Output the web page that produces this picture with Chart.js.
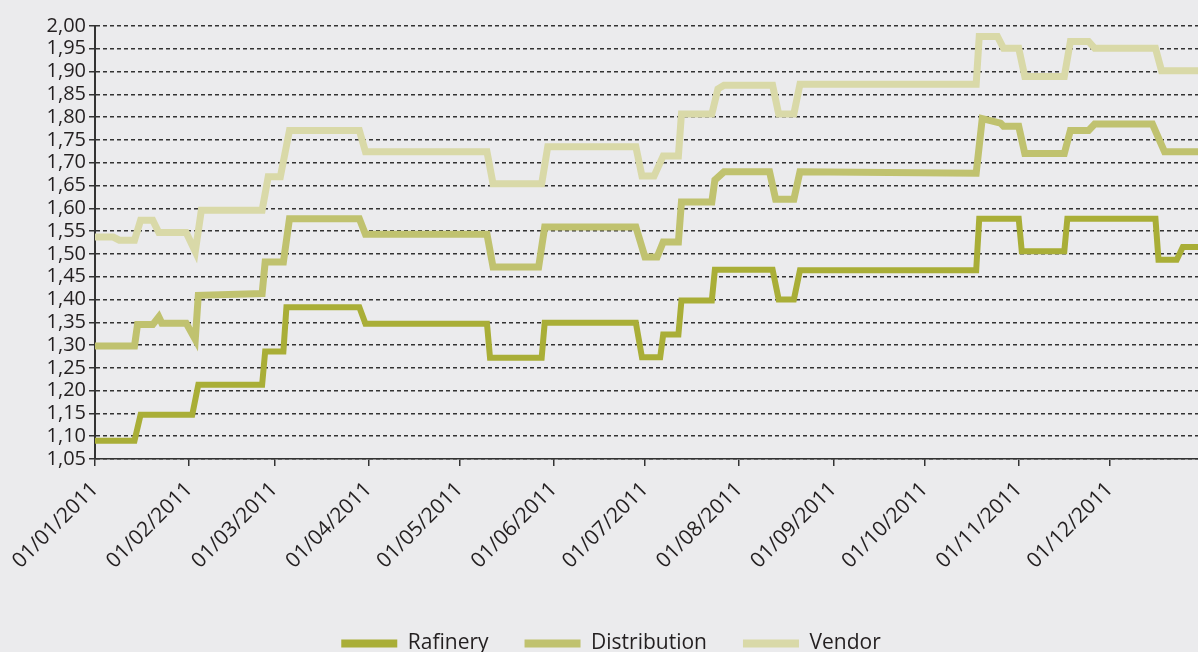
<html><head>
<meta charset="UTF-8">
<title>Rafinery / Distribution / Vendor 2011</title>
<script src="https://cdn.jsdelivr.net/npm/chart.js"></script>
<style>
body {
  margin: 0;
  background: #ebebed;
  overflow: hidden;
}
.wrap {
  position: relative;
  width: 1198px;
  height: 664px;
}
</style>
</head>
<body>
<div class="wrap"><canvas id="priceChart"></canvas></div>
<script>
// month ticks on the x axis
const monthTickDates = ['2011-01-01', '2011-02-01', '2011-03-01', '2011-04-01', '2011-05-01', '2011-06-01',
  '2011-07-01', '2011-08-01', '2011-09-01', '2011-10-01', '2011-11-01', '2011-12-01'];
const monthLabels = ['01/01/2011', '01/02/2011', '01/03/2011', '01/04/2011', '01/05/2011', '01/06/2011',
  '01/07/2011', '01/08/2011', '01/09/2011', '01/10/2011', '01/11/2011', '01/12/2011'];

// price axis ticks
const yTicks = [1.05, 1.10, 1.15, 1.20, 1.25, 1.30, 1.35, 1.40, 1.45, 1.50,
  1.55, 1.60, 1.65, 1.70, 1.75, 1.80, 1.85, 1.90, 1.95, 2.00];

const seriesNames = ['Rafinery', 'Distribution', 'Vendor'];

// price change points, each level is held until the next date
const rafDates = ['2011-01-01', '2011-01-14', '2011-01-16', '2011-02-02', '2011-02-04', '2011-02-25', '2011-02-26',
  '2011-03-04', '2011-03-05', '2011-03-29', '2011-03-31', '2011-05-10', '2011-05-11', '2011-05-28', '2011-05-29',
  '2011-06-28', '2011-06-30', '2011-07-06', '2011-07-07', '2011-07-12', '2011-07-13', '2011-07-23', '2011-07-24',
  '2011-08-12', '2011-08-14', '2011-08-19', '2011-08-21', '2011-10-18', '2011-10-19', '2011-11-01', '2011-11-02',
  '2011-11-16', '2011-11-17', '2011-12-16', '2011-12-17', '2011-12-23', '2011-12-25', '2011-12-31'];
const rafValues = [1.090, 1.090, 1.147, 1.147, 1.213, 1.213, 1.286,
  1.286, 1.383, 1.383, 1.347, 1.347, 1.272, 1.272, 1.349,
  1.349, 1.273, 1.273, 1.323, 1.323, 1.398, 1.398, 1.465,
  1.465, 1.400, 1.400, 1.464, 1.464, 1.577, 1.577, 1.506,
  1.506, 1.577, 1.577, 1.487, 1.487, 1.515, 1.515];

const distDates = ['2011-01-01', '2011-01-14', '2011-01-15', '2011-01-20', '2011-01-22', '2011-01-23', '2011-01-31',
  '2011-02-03', '2011-02-04', '2011-02-25', '2011-02-26', '2011-03-04', '2011-03-06', '2011-03-29', '2011-03-31',
  '2011-05-10', '2011-05-12', '2011-05-27', '2011-05-29', '2011-06-28', '2011-07-01', '2011-07-05', '2011-07-07',
  '2011-07-12', '2011-07-13', '2011-07-23', '2011-07-24', '2011-07-27', '2011-08-11', '2011-08-13', '2011-08-19',
  '2011-08-21', '2011-10-18', '2011-10-20', '2011-10-26', '2011-10-27', '2011-11-01', '2011-11-03', '2011-11-16',
  '2011-11-18', '2011-11-24', '2011-11-26', '2011-12-15', '2011-12-19', '2011-12-31'];
const distValues = [1.298, 1.298, 1.345, 1.345, 1.362, 1.348, 1.348,
  1.312, 1.409, 1.413, 1.482, 1.482, 1.577, 1.577, 1.543,
  1.543, 1.471, 1.471, 1.559, 1.559, 1.493, 1.493, 1.526,
  1.526, 1.614, 1.614, 1.662, 1.680, 1.680, 1.620, 1.620,
  1.680, 1.677, 1.797, 1.787, 1.780, 1.780, 1.720, 1.720,
  1.771, 1.771, 1.785, 1.785, 1.724, 1.724];

const vendDates = ['2011-01-01', '2011-01-07', '2011-01-09', '2011-01-14', '2011-01-16', '2011-01-20', '2011-01-22',
  '2011-01-31', '2011-02-03', '2011-02-05', '2011-02-25', '2011-02-27', '2011-03-03', '2011-03-06', '2011-03-29',
  '2011-03-31', '2011-05-10', '2011-05-12', '2011-05-28', '2011-05-30', '2011-06-28', '2011-06-30', '2011-07-04',
  '2011-07-07', '2011-07-12', '2011-07-13', '2011-07-23', '2011-07-25', '2011-07-27', '2011-08-12', '2011-08-14',
  '2011-08-19', '2011-08-21', '2011-10-18', '2011-10-19', '2011-10-25', '2011-10-27', '2011-11-01', '2011-11-03',
  '2011-11-16', '2011-11-18', '2011-11-24', '2011-11-26', '2011-12-16', '2011-12-18', '2011-12-31'];
const vendValues = [1.537, 1.537, 1.530, 1.530, 1.574, 1.574, 1.547,
  1.547, 1.505, 1.596, 1.596, 1.669, 1.669, 1.771, 1.771,
  1.724, 1.724, 1.654, 1.654, 1.735, 1.735, 1.671, 1.671,
  1.715, 1.715, 1.807, 1.807, 1.862, 1.870, 1.870, 1.807,
  1.807, 1.872, 1.872, 1.977, 1.977, 1.951, 1.951, 1.889,
  1.889, 1.966, 1.966, 1.951, 1.951, 1.902, 1.902];

const colors = ['#a9ae37', '#c0c26f', '#d9d9a8'];
const textColor = '#231f20';
const lineColor = '#333333';

const dayOfYear = (iso) => {
  const [y, m, d] = iso.split('-').map(Number);
  return (Date.UTC(y, m - 1, d) - Date.UTC(y, 0, 1)) / 86400000;
};
const toPoints = (dates, values) => dates.map((d, i) => ({ x: dayOfYear(d), y: values[i] }));

const makeSet = (i, dates, values, width) => ({
  label: seriesNames[i],
  data: toPoints(dates, values),
  borderColor: colors[i],
  backgroundColor: colors[i],
  borderWidth: width,
  borderJoinStyle: 'miter',
  pointRadius: 0,
  tension: 0
});

const family = '"Open Sans", sans-serif';

// the legend row sits a little right of centre
const legendShift = {
  id: 'legendShift',
  afterLayout(chart) {
    chart.legend.left += 12;
    chart.legend.right += 12;
  }
};

new Chart(document.getElementById('priceChart'), {
  type: 'line',
  data: {
    datasets: [
      makeSet(0, rafDates, rafValues, 6),
      makeSet(1, distDates, distValues, 7),
      makeSet(2, vendDates, vendValues, 7)
    ]
  },
  plugins: [legendShift],
  options: {
    responsive: true,
    maintainAspectRatio: false,
    animation: false,
    layout: { padding: { top: 26, left: 0, right: 0, bottom: 0 } },
    plugins: {
      tooltip: { enabled: false },
      legend: {
        position: 'bottom',
        labels: {
          color: textColor,
          font: { family: family, size: 21 },
          boxWidth: 56,
          boxHeight: 8,
          padding: 36,
          generateLabels: (chart) => Chart.defaults.plugins.legend.labels.generateLabels(chart)
            .map(item => Object.assign(item, { lineWidth: 0 }))
        }
      }
    },
    scales: {
      x: {
        type: 'linear',
        min: 0,
        max: 363,
        afterBuildTicks: (s) => { s.ticks = monthTickDates.map(d => ({ value: dayOfYear(d) })); },
        afterFit: (s) => { s.paddingLeft = 0; s.paddingRight = 0; s.height = 138; },
        ticks: {
          autoSkip: false,
          minRotation: 45,
          maxRotation: 45,
          padding: 11,
          color: textColor,
          font: { family: family, size: 21 },
          callback: (v, i) => monthLabels[i]
        },
        grid: { drawOnChartArea: false, tickLength: 7, color: lineColor, lineWidth: 1.5 },
        border: { color: lineColor, width: 1.5 }
      },
      y: {
        min: 1.05,
        max: 2.00,
        afterBuildTicks: (s) => { s.ticks = yTicks.map(v => ({ value: v })); },
        afterFit: (s) => { s.width = 95; s.paddingTop = 0; },
        ticks: {
          autoSkip: false,
          padding: 3,
          color: textColor,
          font: { family: family, size: 20 },
          callback: (v) => v.toFixed(2).replace('.', ',')
        },
        grid: { color: lineColor, lineWidth: 1.5, tickLength: 6, tickBorderDash: [] },
        border: { color: lineColor, width: 2, dash: [4, 3] }
      }
    }
  }
});
</script>
</body></html>
